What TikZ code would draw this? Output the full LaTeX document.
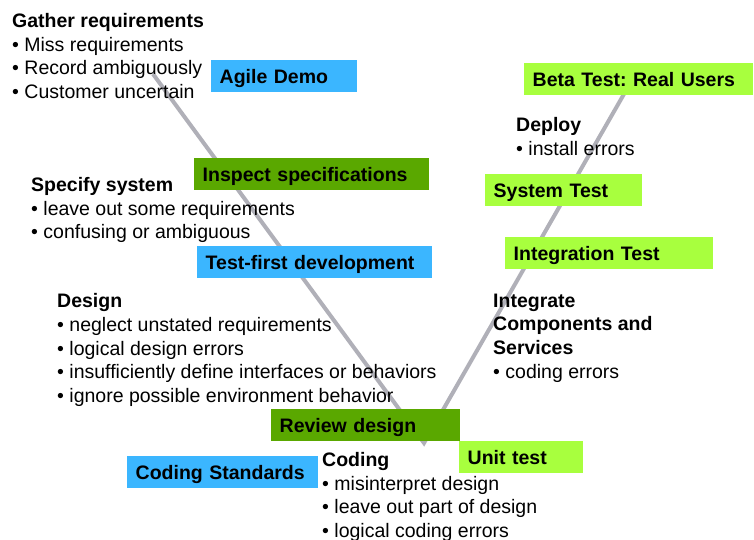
\documentclass[tikz,border=0pt]{standalone}
\usepackage{fontspec}
\setmainfont{Liberation Sans}
\frenchspacing
\definecolor{agileblue}{RGB}{59,182,255}
\definecolor{reviewgreen}{RGB}{90,168,0}
\definecolor{testlime}{RGB}{168,255,62}
\definecolor{vgray}{RGB}{176,176,184}
\begin{document}
\begin{tikzpicture}
  [x=1pt, y=-1pt,
  every node/.style={inner sep=0pt, font=\fontsize{19.5}{23.7}\selectfont},
  notes/.style={anchor=north west, align=left},
  practice/.style={anchor=north west, inner xsep=8.5pt, inner ysep=0pt,
    minimum height=32pt, text height=13.9pt, text depth=0pt, align=left,
    font=\fontsize{19.5}{23.7}\selectfont\bfseries},
  agile/.style={practice, fill=agileblue},
  review/.style={practice, fill=reviewgreen},
  testing/.style={practice, fill=testlime},
  ]
  \useasboundingbox (0,0) rectangle (754,540);
  % the V
  \coordinate (reqtop) at (153,74);
  \coordinate (bottom) at (424,443);
  \coordinate (deploytop) at (624,94);
  \draw[vgray, line width=4pt] (reqtop) -- (bottom) -- (deploytop);

  % left side: phases and their errors
  \node[notes] (gather) at (12,13) {\textbf{Gather requirements}\\
    • Miss requirements\\ • Record ambiguously\\ • Customer uncertain};
  \node[notes] (specify) at (31,177) {\textbf{Specify system}\\
    • leave out some requirements\\ • confusing or ambiguous};
  \node[notes] (design) at (57,293.5) {\textbf{Design}\\
    • neglect unstated requirements\\ • logical design errors\\
    • insufficiently define interfaces or behaviors\\
    • ignore possible environment behavior};
  \node[notes] (coding) at (322,452) {\textbf{Coding}\\
    • misinterpret design\\ • leave out part of design\\
    • logical coding errors};
  % right side
  \node[notes] (deploy) at (516,117) {\textbf{Deploy}\\ • install errors};
  \node[notes] (integrate) at (493,293.5) {\textbf{Integrate}\\
    \textbf{Components and}\\ \textbf{Services}\\ • coding errors};

  % practices
  \node[agile, text width=129pt] (demo) at (211,60) {Agile Demo};
  \node[review, text width=218pt] (inspect) at (194,158) {Inspect specifications};
  \node[agile, text width=218pt] (testfirst) at (197,246) {Test-first development};
  \node[review, text width=172pt] (reviewdesign) at (271,409) {Review design};
  \node[agile, text width=174pt] (standards) at (127,456) {Coding Standards};
  \node[testing, text width=212pt] (beta) at (524,63) {Beta Test: Real Users};
  \node[testing, text width=140pt] (system) at (485,174) {System Test};
  \node[testing, text width=191pt] (integration) at (505,237) {Integration Test};
  \node[testing, text width=107pt] (unit) at (459,441) {Unit test};
\end{tikzpicture}
\end{document}
